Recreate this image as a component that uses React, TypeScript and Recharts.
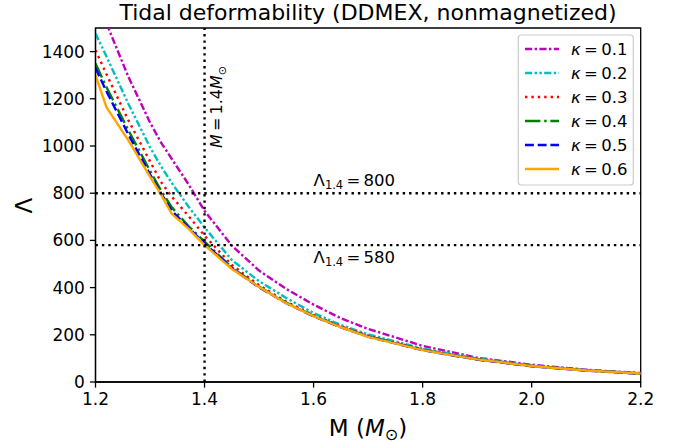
// Tidal deformability Λ versus stellar mass for the DDMEX EoS,
// one curve per magnetisation parameter κ, drawn with Recharts.

import {
  LineChart,
  Line,
  XAxis,
  YAxis,
  ReferenceLine,
  ReferenceArea,
} from "recharts";

const FONT = "'DejaVu Sans', 'Liberation Sans', sans-serif";

// stellar mass grid (M_sun)
const MASS = [1.2, 1.22, 1.26, 1.3, 1.32, 1.34, 1.37, 1.4, 1.45, 1.5, 1.55, 1.6, 1.65, 1.7, 1.8, 1.9, 2.0, 2.1, 2.2];

// Λ(M) for each κ
const LAMBDA_K01 = [1630, 1520, 1295, 1100, 1015, 945, 840, 725, 578, 472, 394, 328, 270, 225, 153, 103, 73, 52, 38];
const LAMBDA_K02 = [1477, 1380, 1180, 995, 915, 843, 745, 655, 517, 427, 356, 292, 242, 202, 142, 100, 70, 50, 37];
const LAMBDA_K03 = [1406, 1305, 1110, 935, 848, 785, 705, 620, 496, 410, 340, 283, 236, 196, 138, 98, 69, 49, 36];
const LAMBDA_K04 = [1350, 1250, 1068, 895, 812, 740, 662, 595, 485, 404, 336, 280, 233, 194, 136, 96, 68, 49, 36];
const LAMBDA_K05 = [1330, 1232, 1050, 880, 800, 725, 655, 588, 482, 401, 334, 278, 232, 192, 135, 95, 67, 48, 35];
const LAMBDA_K06 = [1300, 1165, 1025, 870, 795, 712, 651, 580, 479, 403, 334, 279, 232, 191, 135, 96, 68, 49, 36];

const X_TICKS = [1.2, 1.4, 1.6, 1.8, 2.0, 2.2];
const Y_TICKS = [0, 200, 400, 600, 800, 1000, 1200, 1400];

const LAMBDA_MARKS = [800, 580];
const M_CANONICAL = 1.4;

const SERIES = [
  { key: "k1", kappa: "0.1", color: "#bf00bf", dash: "7.2 2.4 2.4 2.4", values: LAMBDA_K01 },
  { key: "k2", kappa: "0.2", color: "#00bfbf", dash: "7.2 2.4 2.4 2.4 2.4 2.4", values: LAMBDA_K02 },
  { key: "k3", kappa: "0.3", color: "#ff0000", dash: "2.4 4", values: LAMBDA_K03 },
  { key: "k4", kappa: "0.4", color: "#008000", dash: "15.4 3.8 2.4 3.8", values: LAMBDA_K04 },
  { key: "k5", kappa: "0.5", color: "#0000ff", dash: "8.9 3.8", values: LAMBDA_K05 },
  { key: "k6", kappa: "0.6", color: "#ffa500", dash: undefined, values: LAMBDA_K06 },
];

const rows = MASS.map((m, i) => {
  const row: Record<string, number> = { m };
  SERIES.forEach((s) => (row[s.key] = s.values[i]));
  return row;
});

const W = 678;
const H = 445;
const tickStyle = { fontSize: 17, fill: "#000", fontFamily: FONT };
const THIN = "\u2009";

// "Λ_1.4 = value" note sitting on a horizontal reference line
function LambdaNote(props: any) {
  const vb = props.viewBox || {};
  const x = vb.x + vb.width * 0.4;
  const y = props.above ? vb.y - 7.7 : vb.y + 17.5;
  return (
    <text x={x} y={y} fontFamily={FONT} fontSize={16.5} fill="#000">
      Λ
      <tspan fontSize={11.5} dy={3.5}>1.4</tspan>
      <tspan dy={-3.5}>{`${THIN}=${THIN}${props.value}`}</tspan>
    </text>
  );
}

// rotated "M = 1.4 M_sun" note beside the vertical line
function MassNote(props: any) {
  const vb = props.viewBox || {};
  const x = vb.x + 17.7;
  const y = vb.y + vb.height / 3 + 2;
  return (
    <text
      x={x}
      y={y}
      transform={`rotate(-90 ${x} ${y})`}
      fontFamily={FONT}
      fontSize={16}
      fill="#000"
    >
      <tspan fontStyle="italic">M</tspan>
      <tspan>{`${THIN}=${THIN}1.4`}</tspan>
      <tspan fontStyle="italic">M</tspan>
      <tspan fontSize={11} dy={3.5}>⊙</tspan>
    </text>
  );
}

function LegendBox() {
  const x0 = 518.3;
  const y0 = 35;
  return (
    <g>
      <rect x={x0} y={y0} width={115} height={150} rx={3} fill="#fff" fillOpacity={0.8} stroke="#cccccc" strokeWidth={1.2} />
      {SERIES.map((s, i) => {
        const y = 49 + i * 24;
        return (
          <g key={s.key}>
            <line x1={525} x2={559} y1={y} y2={y} stroke={s.color} strokeWidth={2.4} strokeDasharray={s.dash} />
            <text x={571} y={y + 6} fontFamily={FONT} fontSize={16.5} fill="#000">
              <tspan fontStyle="italic">κ</tspan>
              <tspan>{`${THIN}=${THIN}${s.kappa}`}</tspan>
            </text>
          </g>
        );
      })}
    </g>
  );
}

export default function App() {
  return (
    <div style={{ position: "relative", width: W, height: H, background: "#fff" }}>
      <style>{"body{margin:0}"}</style>
      <LineChart
        width={W}
        height={H}
        data={rows}
        margin={{ top: 28, right: 37.3, bottom: 0, left: 0 }}
      >
        <XAxis
          dataKey="m"
          type="number"
          domain={[1.2, 2.2]}
          ticks={X_TICKS}
          allowDataOverflow
          tickFormatter={(v: number) => v.toFixed(1)}
          tick={tickStyle}
          tickSize={5.6}
          tickMargin={5}
          height={63}
          axisLine={{ stroke: "#000", strokeWidth: 1.3 }}
          tickLine={{ stroke: "#000", strokeWidth: 1.3 }}
        />
        <YAxis
          type="number"
          domain={[0, 1500]}
          ticks={Y_TICKS}
          allowDataOverflow
          tick={tickStyle}
          tickSize={5.6}
          tickMargin={5}
          width={95.5}
          axisLine={{ stroke: "#000", strokeWidth: 1.3 }}
          tickLine={{ stroke: "#000", strokeWidth: 1.3 }}
        />
        <ReferenceArea x1={1.2} x2={2.2} y1={0} y2={1500} fill="none" stroke="#000" strokeWidth={1.3} />
        {SERIES.map((s) => (
          <Line
            key={s.key}
            dataKey={s.key}
            type="linear"
            stroke={s.color}
            strokeWidth={2.4}
            strokeDasharray={s.dash}
            strokeLinejoin="round"
            dot={false}
            activeDot={false}
            isAnimationActive={false}
          />
        ))}
        {LAMBDA_MARKS.map((v, i) => (
          <ReferenceLine
            key={v}
            y={v}
            stroke="#000"
            strokeWidth={2.4}
            strokeDasharray="2.4 4"
            label={<LambdaNote value={v} above={i === 0} />}
          />
        ))}
        <ReferenceLine
          x={M_CANONICAL}
          stroke="#000"
          strokeWidth={2.4}
          strokeDasharray="2.4 4"
          label={<MassNote />}
        />
      </LineChart>
      <svg width={W} height={H} style={{ position: "absolute", left: 0, top: 0, pointerEvents: "none" }}>
        <text x={368} y={19.5} textAnchor="middle" fontFamily={FONT} fontSize={22} fill="#000">
          Tidal deformability (DDMEX, nonmagnetized)
        </text>
        <text x={368} y={436} textAnchor="middle" fontFamily={FONT} fontSize={23} fill="#000">
          <tspan>{"M ("}</tspan>
          <tspan fontStyle="italic">M</tspan>
          <tspan fontSize={16} dy={4}>⊙</tspan>
          <tspan dy={-4}>)</tspan>
        </text>
        <text
          x={31.5}
          y={205.5}
          transform="rotate(-90 31.5 205.5)"
          textAnchor="middle"
          fontFamily={FONT}
          fontSize={23}
          fill="#000"
        >
          Λ
        </text>
        <LegendBox />
      </svg>
    </div>
  );
}
